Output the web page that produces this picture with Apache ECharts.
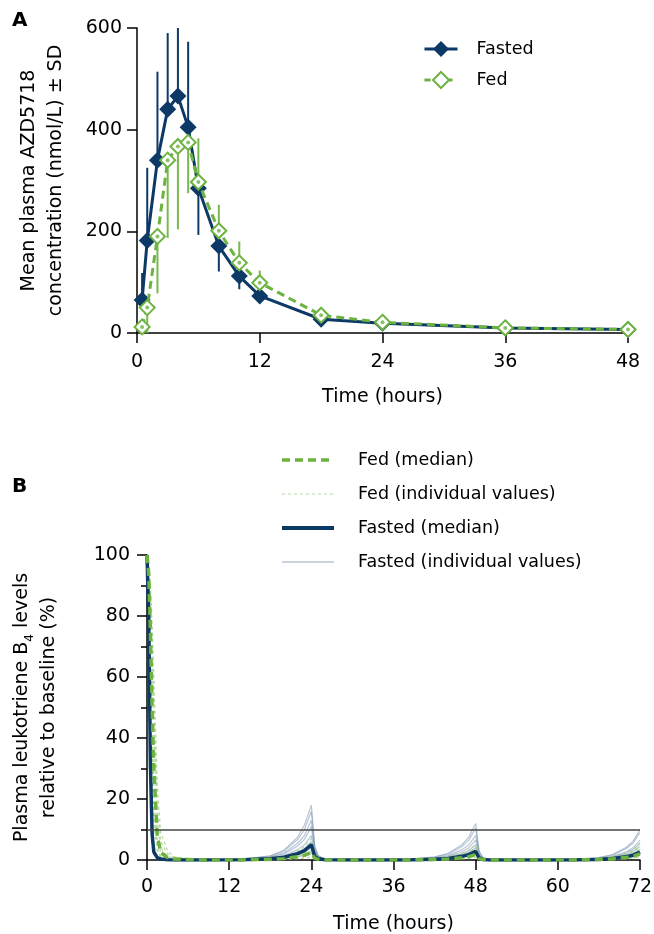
<!DOCTYPE html>
<html>
<head>
<meta charset="utf-8">
<script src="https://cdn.jsdelivr.net/npm/echarts@6/dist/echarts.min.js"></script>
<style>
  html, body { margin: 0; padding: 0; background: #fff; }
  #chart { width: 654px; height: 934px; }
</style>
</head>
<body>
<div id="chart"></div>
<script>
// ---- panel A: AZD5718 plasma concentration ----
var pkTime = [0.5, 1, 2, 3, 4, 5, 6, 8, 10, 12, 18, 24, 36, 48];
var fastedMean = [65, 182, 340, 440, 466, 405, 285, 171, 112, 73, 27, 19, 10, 7];
var fastedBarEnd = [118, 325, 514, 590, 600, 573, 193, 121, 86, 64, 22, 16, 8, 6];
var fedMean = [12, 50, 190, 340, 367, 375, 297, 201, 138, 99, 35, 21, 10, 7];
var fedBarEnd = [0, 0, 78, 187, 204, 275, 383, 252, 180, 123, 45, 26, 13, 9];

// ---- panel B: LTB4 relative to baseline ----
var pdTime = [0, 0.25, 0.5, 0.75, 1, 1.5, 2, 3, 4, 8, 14, 18, 20, 22, 23, 24, 24.5, 25, 26, 30,
  38, 42, 44, 46, 47, 48, 48.5, 49, 50, 54, 62, 66, 68, 70, 71, 72];

var fastedMedian = [100, 80, 31, 8.5, 2.6, 0.8, 0.3, 0.1, 0, 0, 0.07, 0.4, 0.9, 2.1, 3.1, 5, 1.2, 0.4, 0.05, 0,
  0.04, 0.22, 0.5, 1.2, 1.75, 2.8, 0.7, 0.2, 0, 0, 0.04, 0.2, 0.47, 1.1, 1.6, 2.6];
var fedMedian = [100, 94, 75, 50, 30, 8, 2.5, 0.8, 0.3, 0, 0.04, 0.2, 0.45, 1.05, 1.55, 2.5, 0.6, 0.2, 0, 0,
  0.03, 0.15, 0.32, 0.75, 1.1, 1.8, 0.45, 0.15, 0, 0, 0.03, 0.16, 0.36, 0.85, 1.25, 2];

var fastedIndiv = [
  [100, 80, 30, 8, 2.5, 0.8, 0.3, 0.1, 0, 0, 0.3, 1.4, 3.2, 7.5, 11.5, 18, 4.5, 1.5, 0.2, 0,
    0.2, 1, 2.2, 5, 7.5, 12, 3, 1, 0.1, 0, 0.2, 0.8, 1.8, 4.2, 6.2, 10],
  [100, 78, 28, 7, 2, 0.6, 0.2, 0.1, 0, 0, 0.25, 1.3, 2.9, 6.7, 10, 16, 4, 1.3, 0.2, 0,
    0.15, 0.85, 1.9, 4.4, 6.5, 10.5, 2.6, 0.9, 0.1, 0, 0.15, 0.7, 1.6, 3.8, 5.6, 9],
  [100, 82, 34, 10, 3, 1, 0.4, 0.1, 0, 0, 0.2, 1, 2.3, 5.5, 8, 13, 3.2, 1, 0.15, 0,
    0.12, 0.65, 1.45, 3.4, 5, 8, 2, 0.7, 0.1, 0, 0.1, 0.5, 1.2, 2.7, 4, 6.5],
  [100, 75, 25, 6, 1.8, 0.5, 0.2, 0, 0, 0, 0.15, 0.9, 2, 4.6, 6.8, 11, 2.8, 0.9, 0.1, 0,
    0.1, 0.5, 1.2, 2.7, 4, 6.5, 1.6, 0.5, 0.1, 0, 0.1, 0.45, 1, 2.3, 3.4, 5.5],
  [100, 85, 38, 12, 3.5, 1.2, 0.4, 0.1, 0, 0, 0.1, 0.65, 1.45, 3.4, 5, 8, 2, 0.6, 0.1, 0,
    0.08, 0.4, 0.9, 2.1, 3.1, 5, 1.2, 0.4, 0.05, 0, 0.07, 0.36, 0.8, 1.9, 2.8, 4.5],
  [100, 80, 32, 9, 2.8, 0.9, 0.3, 0.1, 0, 0, 0.1, 0.5, 1.1, 2.5, 3.7, 6, 1.5, 0.5, 0.05, 0,
    0.06, 0.32, 0.72, 1.7, 2.5, 4, 1, 0.3, 0.05, 0, 0.05, 0.28, 0.63, 1.5, 2.2, 3.5],
  [100, 77, 27, 7, 2.2, 0.7, 0.2, 0.1, 0, 0, 0.06, 0.32, 0.72, 1.7, 2.5, 4, 1, 0.3, 0.05, 0,
    0.05, 0.24, 0.54, 1.3, 1.9, 3, 0.75, 0.25, 0, 0, 0.04, 0.2, 0.45, 1.05, 1.55, 2.5],
  [100, 83, 36, 11, 3.2, 1, 0.3, 0.1, 0, 0, 0.04, 0.2, 0.45, 1.05, 1.55, 2.5, 0.6, 0.2, 0, 0,
    0.03, 0.16, 0.36, 0.85, 1.25, 2, 0.5, 0.15, 0, 0, 0.02, 0.12, 0.27, 0.63, 0.93, 1.5]
];

var fedIndiv = [
  [100, 97, 88, 72, 52, 18, 6, 2, 0.8, 0.1, 0.1, 0.55, 1.25, 2.9, 4.3, 7, 1.8, 0.6, 0.1, 0,
    0.08, 0.4, 0.9, 2.1, 3.1, 5, 1.2, 0.4, 0.05, 0, 0.08, 0.45, 1, 2.3, 3.4, 5.5],
  [100, 95, 80, 60, 40, 12, 4, 1.2, 0.4, 0, 0.08, 0.45, 1, 2.3, 3.4, 5.5, 1.4, 0.45, 0.05, 0,
    0.06, 0.32, 0.72, 1.7, 2.5, 4, 1, 0.3, 0.05, 0, 0.07, 0.36, 0.8, 1.9, 2.8, 4.5],
  [100, 92, 70, 45, 25, 7, 2.5, 0.8, 0.3, 0, 0.06, 0.32, 0.72, 1.7, 2.5, 4, 1, 0.3, 0.05, 0,
    0.05, 0.24, 0.54, 1.3, 1.9, 3, 0.75, 0.25, 0, 0, 0.05, 0.28, 0.63, 1.5, 2.2, 3.5],
  [100, 98, 90, 78, 60, 25, 9, 3, 1, 0.1, 0.05, 0.24, 0.54, 1.3, 1.9, 3, 0.75, 0.25, 0, 0,
    0.03, 0.16, 0.36, 0.85, 1.25, 2, 0.5, 0.15, 0, 0, 0.04, 0.2, 0.45, 1.05, 1.55, 2.5],
  [100, 90, 62, 35, 16, 4, 1.2, 0.4, 0.1, 0, 0.03, 0.16, 0.36, 0.85, 1.25, 2, 0.5, 0.15, 0, 0,
    0.02, 0.12, 0.27, 0.63, 0.93, 1.5, 0.4, 0.1, 0, 0, 0.02, 0.12, 0.27, 0.63, 0.93, 1.5],
  [100, 88, 55, 28, 12, 3, 0.9, 0.3, 0.1, 0, 0.02, 0.08, 0.18, 0.42, 0.62, 1, 0.25, 0.08, 0, 0,
    0.01, 0.06, 0.14, 0.34, 0.5, 0.8, 0.2, 0.06, 0, 0, 0.02, 0.08, 0.18, 0.42, 0.62, 1]
];

var pkXTicks = { min: 0, max: 48, interval: 12 };
var pdXTicks = { min: 0, max: 72, interval: 12 };
var threshold = 10;

var navy = '#0d3966';
var green = '#6cb33f';
var font = '"DejaVu Sans", "Liberation Sans", Arial, sans-serif';
var labelSize = 19;

function pairs(xs, ys) {
  return xs.map(function (x, i) { return [x, ys[i]]; });
}

// vertical SD bars (one sided, as in the figure)
function barSeries(name, means, ends, color) {
  return {
    name: name,
    type: 'custom',
    xAxisIndex: 0,
    yAxisIndex: 0,
    z: 1,
    silent: true,
    data: pkTime.map(function (t, i) { return [t, means[i], ends[i]]; }),
    renderItem: function (params, api) {
      var p1 = api.coord([api.value(0), api.value(1)]);
      var p2 = api.coord([api.value(0), api.value(2)]);
      return {
        type: 'line',
        shape: { x1: p1[0], y1: p1[1], x2: p2[0], y2: p2[1] },
        style: { stroke: color, lineWidth: 2 }
      };
    }
  };
}

function axis(extra) {
  var base = {
    axisLine: { lineStyle: { color: '#000', width: 1.5 } },
    axisTick: { length: 10, lineStyle: { color: '#000', width: 1.5 } },
    splitLine: { show: false },
    nameTextStyle: { color: '#000', fontSize: labelSize, fontFamily: font, lineHeight: 27 }
  };
  return Object.assign(base, extra);
}

function tickLabel(margin) {
  return { color: '#000', fontSize: labelSize, fontFamily: font, margin: margin };
}

var series = [];

// panel A
series.push(barSeries('fastedBar', fastedMean, fastedBarEnd, navy));
series.push(barSeries('fedBar', fedMean, fedBarEnd, '#79b84e'));
series.push({
  name: 'Fasted',
  type: 'line',
  xAxisIndex: 0, yAxisIndex: 0,
  data: pairs(pkTime, fastedMean),
  symbol: 'diamond',
  symbolSize: 17,
  z: 3,
  itemStyle: { color: navy },
  lineStyle: { color: navy, width: 3 }
});
series.push({
  name: 'Fed',
  type: 'line',
  xAxisIndex: 0, yAxisIndex: 0,
  data: pairs(pkTime, fedMean),
  symbol: 'diamond',
  symbolSize: 15,
  z: 4,
  itemStyle: { color: '#fff', borderColor: green, borderWidth: 2 },
  lineStyle: { color: green, width: 3, type: [8, 5] }
});
series.push({
  name: 'fedDot',
  type: 'scatter',
  xAxisIndex: 0, yAxisIndex: 0,
  data: pairs(pkTime, fedMean),
  symbol: 'circle',
  symbolSize: 4,
  z: 5,
  silent: true,
  itemStyle: { color: green }
});

// panel B
var hidden = { opacity: 0 };
fastedIndiv.forEach(function (vals, k) {
  series.push({
    name: 'Fasted (individual values)',
    type: 'line',
    xAxisIndex: 1, yAxisIndex: 1,
    data: pairs(pdTime, vals),
    symbol: 'none',
    z: 2,
    itemStyle: hidden,
    lineStyle: { color: 'rgba(125,152,180,0.55)', width: 1.2 },
    markLine: k === 0 ? {
      silent: true,
      symbol: 'none',
      label: { show: false },
      lineStyle: { color: '#444', width: 1.5, type: 'solid' },
      data: [{ yAxis: threshold }]
    } : undefined
  });
});
fedIndiv.forEach(function (vals) {
  series.push({
    name: 'Fed (individual values)',
    type: 'line',
    xAxisIndex: 1, yAxisIndex: 1,
    data: pairs(pdTime, vals),
    symbol: 'none',
    z: 2,
    itemStyle: hidden,
    lineStyle: { color: 'rgba(160,205,125,0.75)', width: 1.2, type: [3, 3] }
  });
});
series.push({
  name: 'Fasted (median)',
  type: 'line',
  xAxisIndex: 1, yAxisIndex: 1,
  data: pairs(pdTime, fastedMedian),
  symbol: 'none',
  z: 3,
  itemStyle: hidden,
  lineStyle: { color: navy, width: 3.5 }
});
series.push({
  name: 'Fed (median)',
  type: 'line',
  xAxisIndex: 1, yAxisIndex: 1,
  data: pairs(pdTime, fedMedian),
  symbol: 'none',
  z: 4,
  itemStyle: hidden,
  lineStyle: { color: green, width: 3.5, type: [8, 5] }
});

var chart = echarts.init(document.getElementById('chart'), null, { renderer: 'canvas' });

var legendText = { color: '#000', fontSize: 17.5, fontFamily: font };
var panelFont = 'bold 20px "DejaVu Sans", sans-serif';

var option = {
  animation: false,
  backgroundColor: '#fff',
  textStyle: { fontFamily: font },
  graphic: [
    { type: 'text', left: 12, top: 11, style: { text: 'A', font: panelFont, fill: '#000' } },
    { type: 'text', left: 12, top: 477, style: { text: 'B', font: panelFont, fill: '#000' } }
  ],
  legend: [
    {
      data: [
        { name: 'Fasted', lineStyle: { width: 3 } },
        { name: 'Fed', lineStyle: { width: 3, type: [6, 5] } }
      ],
      orient: 'vertical',
      left: 423, top: 40, padding: 0,
      itemWidth: 33, itemHeight: 20, itemGap: 13,
      textStyle: Object.assign({ padding: [0, 0, 0, 14] }, legendText)
    },
    {
      data: [
        { name: 'Fed (median)', lineStyle: { width: 3.5, type: [8, 5] } },
        { name: 'Fed (individual values)', lineStyle: { width: 1.2, type: [3, 3] } },
        { name: 'Fasted (median)', lineStyle: { width: 4 } },
        { name: 'Fasted (individual values)', lineStyle: { width: 1.5 } }
      ],
      orient: 'vertical',
      left: 280, top: 451, padding: 0,
      itemWidth: 52, itemHeight: 14, itemGap: 16,
      itemStyle: { opacity: 0 },
      textStyle: Object.assign({ padding: [0, 0, 0, 19] }, legendText)
    }
  ],
  grid: [
    { left: 137, top: 28, width: 491, height: 305, outerBoundsMode: 'none' },
    { left: 147, top: 555, width: 493, height: 305, outerBoundsMode: 'none' }
  ],
  xAxis: [
    axis({
      gridIndex: 0, type: 'value',
      min: pkXTicks.min, max: pkXTicks.max, interval: pkXTicks.interval,
      name: 'Time (hours)', nameLocation: 'middle', nameGap: 51,
      axisLabel: tickLabel(20)
    }),
    axis({
      gridIndex: 1, type: 'value',
      min: pdXTicks.min, max: pdXTicks.max, interval: pdXTicks.interval,
      name: 'Time (hours)', nameLocation: 'middle', nameGap: 51,
      axisLabel: tickLabel(18)
    })
  ],
  yAxis: [
    axis({
      gridIndex: 0, type: 'value', min: 0, max: 600, interval: 200,
      name: 'Mean plasma AZD5718\nconcentration (nmol/L) ± SD',
      nameLocation: 'middle', nameRotate: 90, nameGap: 67,
      axisLabel: tickLabel(15)
    }),
    axis({
      gridIndex: 1, type: 'value', min: 0, max: 100, interval: 20,
      name: 'Plasma leukotriene B{sub|4} levels\nrelative to baseline (%)',
      nameLocation: 'middle', nameRotate: 90, nameGap: 84,
      nameTextStyle: {
        color: '#000', fontSize: labelSize, fontFamily: font, lineHeight: 27,
        rich: { sub: { fontSize: 12, fontFamily: font, verticalAlign: 'bottom', padding: [8, 0, 0, 0], lineHeight: 27 } }
      },
      minorTick: { show: true, splitNumber: 2, length: 6, lineStyle: { color: '#000', width: 1.5 } },
      axisLabel: tickLabel(17)
    })
  ],
  series: series
};

chart.setOption(option);
window.addEventListener('resize', function () {
  chart.resize();
});
</script>
</body>
</html>
